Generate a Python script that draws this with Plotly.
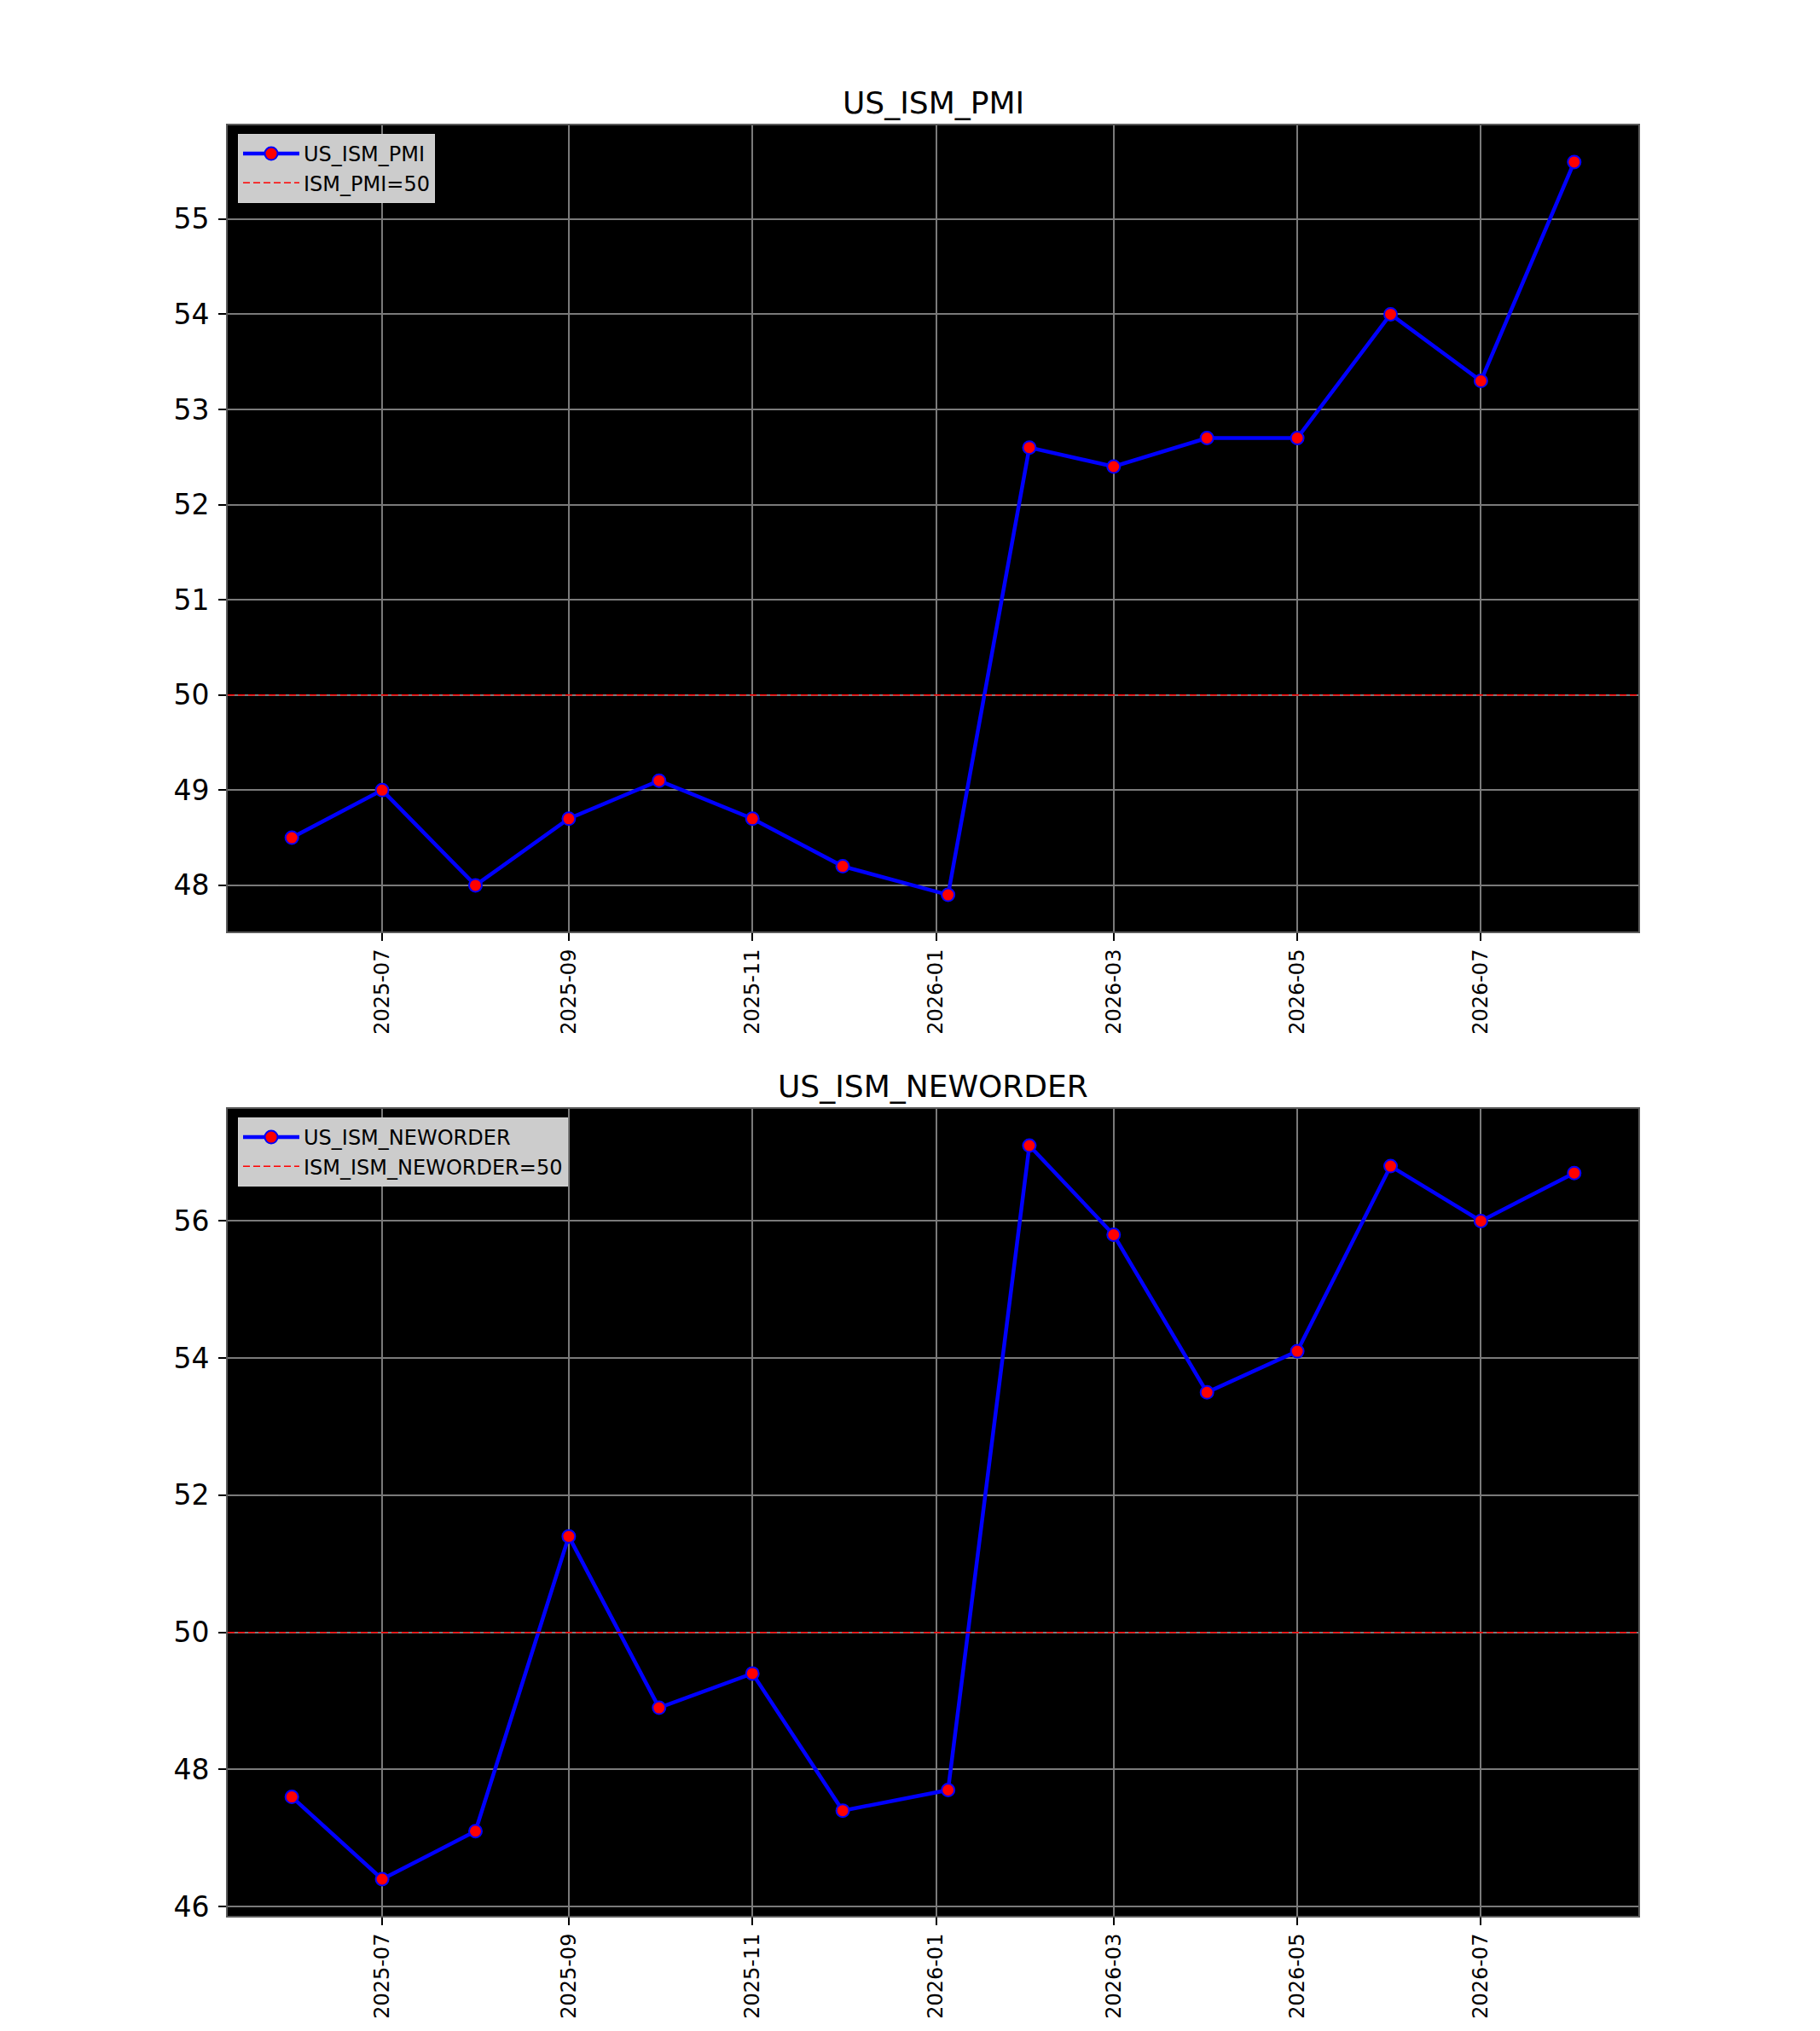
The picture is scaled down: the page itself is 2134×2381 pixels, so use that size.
import pandas as pd
import plotly.graph_objects as go

# ---- data ----
dates = ["2025-06-01", "2025-07-01", "2025-08-01", "2025-09-01", "2025-10-01",
         "2025-11-01", "2025-12-01", "2026-01-05", "2026-02-01", "2026-03-01",
         "2026-04-01", "2026-05-01", "2026-06-01", "2026-07-01", "2026-08-01"]
pmi = [48.5, 49.0, 48.0, 48.7, 49.1, 48.7, 48.2, 47.9, 52.6, 52.4, 52.7, 52.7, 54.0, 53.3, 55.6]
neworder = [47.6, 46.4, 47.1, 51.4, 48.9, 49.4, 47.4, 47.7, 57.1, 55.8, 53.5, 54.1, 56.8, 56.0, 56.7]
threshold = 50
titles = ["US_ISM_PMI", "US_ISM_NEWORDER"]
series_names = ["US_ISM_PMI", "US_ISM_NEWORDER"]
threshold_names = ["ISM_PMI=50", "ISM_ISM_NEWORDER=50"]
x_tick_start = "2025-07-01"

# page body has an 8px default margin; lay out in page pixels and convert
OFF = 8
W, H = 2134 - 2 * OFF, 2381 - 2 * OFF
FONT = "DejaVu Sans"

dt = pd.to_datetime(dates)
span = dt.max() - dt.min()
x0 = dt.min() - span * 0.05
x1 = dt.max() + span * 0.05
x_range = [x0.strftime("%Y-%m-%d %H:%M:%S"), x1.strftime("%Y-%m-%d %H:%M:%S")]

def yr(vals):
    lo, hi = min(vals), max(vals)
    m = (hi - lo) * 0.05
    return [lo - m, hi + m]

def fx(px):
    return (px - OFF) / W

def fy(px):
    return 1 - (px - OFF) / H

# plot-area geometry in page pixels (from top-left)
left_px, right_px = 267, 1921
panels_px = [(147, 1092), (1300, 2246)]

fig = go.Figure()

series = [pmi, neworder]
dticks = [1, 2]
for i in range(2):
    xa = "x" if i == 0 else "x2"
    ya = "y" if i == 0 else "y2"
    lg = "legend" if i == 0 else "legend2"
    fig.add_trace(go.Scatter(
        x=dates, y=series[i], mode="lines+markers", name=series_names[i],
        xaxis=xa, yaxis=ya, legend=lg,
        line=dict(color="blue", width=4.5),
        marker=dict(color="red", size=15, line=dict(color="blue", width=2)),
    ))
    fig.add_trace(go.Scatter(
        x=x_range, y=[threshold, threshold], mode="lines", name=threshold_names[i],
        xaxis=xa, yaxis=ya, legend=lg,
        line=dict(color="red", width=1.5, dash="8px,4px"),
    ))

layout = dict(
    width=W, height=H,
    margin=dict(l=0, r=0, t=0, b=0),
    paper_bgcolor="white",
    plot_bgcolor="black",
    font=dict(family=FONT, color="black"),
    annotations=[],
)

for i in range(2):
    top, bot = panels_px[i]
    ydom = [fy(bot), fy(top)]
    xdom = [fx(left_px), fx(right_px)]
    sfx = "" if i == 0 else "2"
    layout["xaxis" + sfx] = dict(
        domain=xdom, anchor="y" + sfx, type="date", range=x_range,
        tick0=x_tick_start, dtick="M2", tickformat="%Y-%m", tickangle=-90,
        ticks="outside", ticklen=9, tickwidth=1.5, tickcolor="black",
        ticklabelstandoff=0,
        tickfont=dict(family=FONT, size=24, color="black"),
        showgrid=True, gridcolor="#7a7a7a", gridwidth=1.5,
        showline=True, linecolor="#5a5a5a", linewidth=2, mirror=True,
        zeroline=False, automargin=False,
    )
    layout["yaxis" + sfx] = dict(
        domain=ydom, anchor="x" + sfx, range=yr(series[i]), dtick=dticks[i],
        ticks="outside", ticklen=9, tickwidth=1.5, tickcolor="black",
        ticklabelstandoff=4,
        tickfont=dict(family=FONT, size=33, color="black"),
        showgrid=True, gridcolor="#7a7a7a", gridwidth=1.5,
        showline=True, linecolor="#5a5a5a", linewidth=2, mirror=True,
        zeroline=False, automargin=False,
    )
    layout["annotations"].append(dict(
        text=titles[i], xref="paper", yref="paper",
        x=(xdom[0] + xdom[1]) / 2, y=ydom[1], xanchor="center", yanchor="bottom",
        yshift=4, showarrow=False, font=dict(family=FONT, size=36, color="black"),
    ))
    leg = dict(
        x=fx(279), y=fy(top + 10), xanchor="left", yanchor="top",
        bgcolor="#cccccc", bordercolor="#d4d4d4", borderwidth=1,
        font=dict(family=FONT, size=24, color="black"),
        itemwidth=66, tracegroupgap=0,
    )
    layout["legend" if i == 0 else "legend2"] = leg

fig.update_layout(**layout)
fig.update_layout(showlegend=True)
fig.write_html("out.html")
